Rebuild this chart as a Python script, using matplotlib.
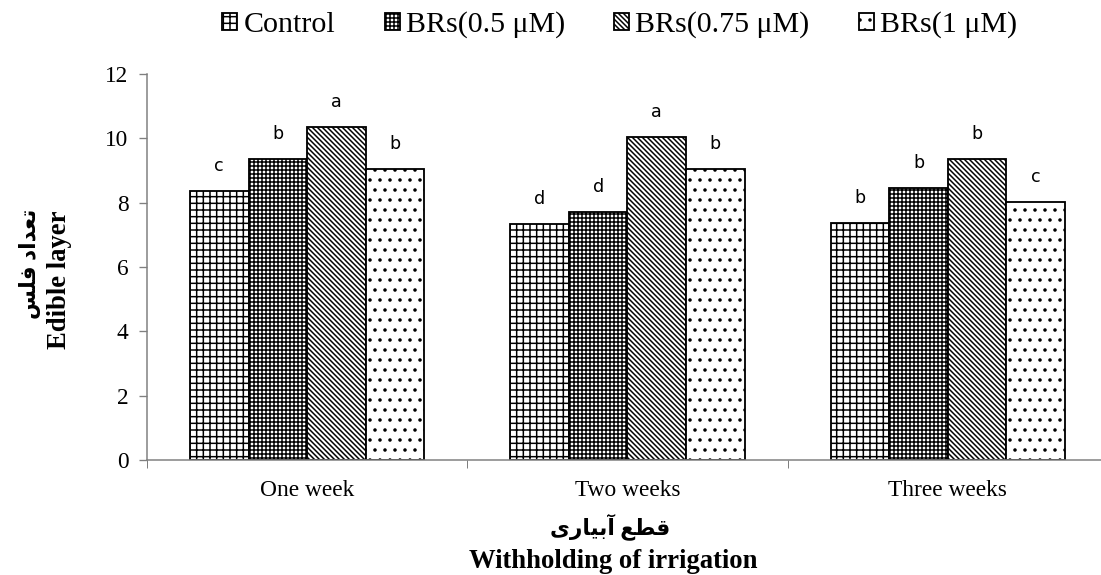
import numpy as np
import matplotlib.pyplot as plt

# Data
groups = ["One week", "Two weeks", "Three weeks"]
treatments = ["Control", "BRs(0.5 μM)", "BRs(0.75 μM)", "BRs(1 μM)"]
control = [8.35, 7.34, 7.36]
brs_05 = [9.35, 7.70, 8.45]
brs_075 = [10.34, 10.04, 9.36]
brs_1 = [9.04, 9.04, 8.03]
letters = [["c", "d", "b"], ["b", "d", "b"], ["a", "a", "b"], ["b", "b", "c"]]
yticks = [0, 2, 4, 6, 8, 10, 12]

# Persian labels, written in shaped (presentation) forms, left-to-right visual order
ylabel_fa = "\ufeb2\ufee0\ufed3 \ufea9\ufe8d\ufeaa\ufecc\ufe97"   # تعداد فلس
xlabel_fa = "\ufeef\ufead\ufe8e\ufef4\ufe91\ufe81 \ufeca\ufec4\ufed7"   # قطع آبیاری

plt.rcParams["hatch.linewidth"] = 0.9
plt.rcParams["font.family"] = ["Liberation Serif", "DejaVu Sans"]

fig = plt.figure(figsize=(1101 / 120, 575 / 120), dpi=120)
ax = fig.add_axes([147 / 1101, 0.2, 961 / 1101, 386 / 575])

series = [control, brs_05, brs_075, brs_1]
hatches = ["+++", "+++++", "\\" * 8, ".."]
width = 0.183
x = np.arange(len(groups))

for i, (vals, label, hatch) in enumerate(zip(series, treatments, hatches)):
    pos = x + (i - 1.5) * width
    ax.bar(pos, vals, width, color="white", edgecolor="black", hatch=hatch,
           linewidth=1.1, label=label)
    for px, v, lt in zip(pos, vals, letters[i]):
        ax.text(px, v + 0.62, lt, ha="center", va="baseline",
                fontsize=10.5, family="DejaVu Sans")

ax.set_xlim(-0.5, 2.5)
ax.set_ylim(0, 12)
ax.set_yticks(yticks)
ax.set_xticks(x)
ax.set_xticklabels(groups)
ax.set_xticks([-0.5, 0.5, 1.5, 2.5], minor=True)
ax.tick_params(axis="x", which="major", length=0, pad=12, labelsize=14)
ax.tick_params(axis="x", which="minor", length=5, color="#7f7f7f")
ax.tick_params(axis="y", length=5, color="#7f7f7f", labelsize=14, pad=6)

for s in ["top", "right"]:
    ax.spines[s].set_visible(False)
for s in ["left", "bottom"]:
    ax.spines[s].set_color("#7f7f7f")
    ax.spines[s].set_linewidth(0.9)

fig.legend(loc="center", bbox_to_anchor=(0.563, 0.957), ncol=4, frameon=False,
           fontsize=18, handlelength=0.5, handleheight=0.5, handletextpad=0.2,
           columnspacing=1.65, borderpad=0)

# Axis titles (Persian + English)
fig.text(30 / 1101, 1 - 264 / 575, ylabel_fa, rotation=90, ha="center", va="center",
         fontsize=13, fontweight="bold")
fig.text(60 / 1101, 1 - 280 / 575, "Edible layer", rotation=90, ha="center", va="center",
         fontsize=16, fontweight="bold")
fig.text(610 / 1101, 1 - 527 / 575, xlabel_fa, ha="center", va="center",
         fontsize=13, fontweight="bold")
fig.text(613 / 1101, 1 - 561 / 575, "Withholding of irrigation", ha="center", va="center",
         fontsize=16, fontweight="bold")

fig.savefig("out.png", dpi=120)
